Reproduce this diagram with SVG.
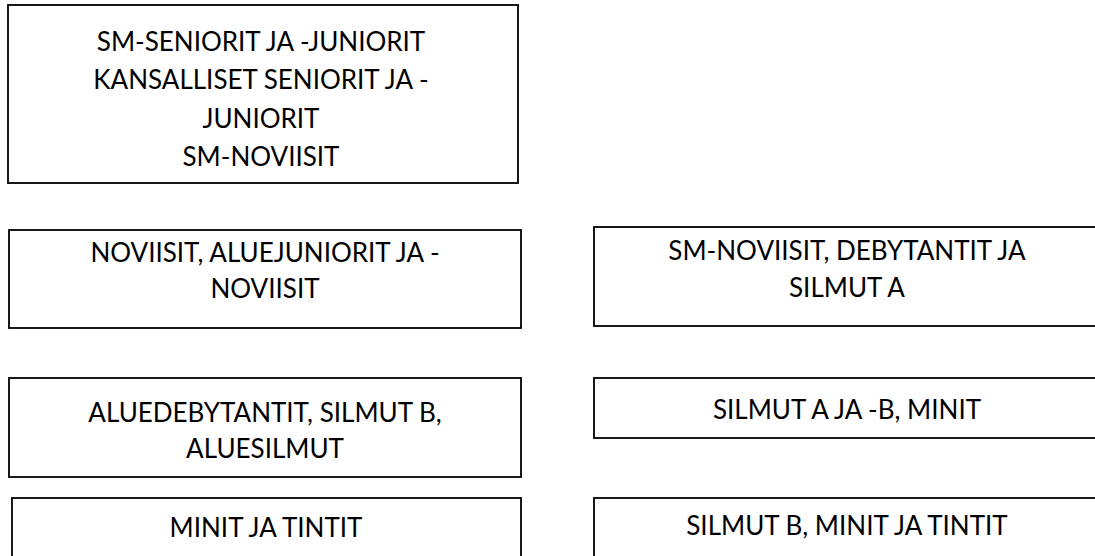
<svg xmlns="http://www.w3.org/2000/svg" width="1095" height="556" viewBox="0 0 1095 556">
<style>
.box{fill:#fff;stroke:#000;stroke-width:1.8}
.t{font-family:"Lato","Open Sans",sans-serif;font-size:26px;fill:#000;text-anchor:middle}
</style>
<rect width="1095" height="556" fill="#fff"/>
<g id="connectors"></g>
<g id="n1">
<rect class="box" x="8" y="5" width="510" height="178"/>
<text class="t" x="261" y="51">SM-SENIORIT JA -JUNIORIT</text>
<text class="t" x="261" y="89">KANSALLISET SENIORIT JA -</text>
<text class="t" x="261" y="128">JUNIORIT</text>
<text class="t" x="261" y="166">SM-NOVIISIT</text>
</g>
<g id="n2">
<rect class="box" x="9" y="230" width="512" height="98"/>
<text class="t" x="265" y="262">NOVIISIT, ALUEJUNIORIT JA -</text>
<text class="t" x="265" y="298">NOVIISIT</text>
</g>
<g id="n3">
<rect class="box" x="594" y="227" width="510" height="99"/>
<text class="t" x="847" y="260">SM-NOVIISIT, DEBYTANTIT JA</text>
<text class="t" x="847" y="297">SILMUT A</text>
</g>
<g id="n4">
<rect class="box" x="9" y="378" width="512" height="99"/>
<text class="t" x="265" y="422">ALUEDEBYTANTIT, SILMUT B,</text>
<text class="t" x="265" y="458">ALUESILMUT</text>
</g>
<g id="n5">
<rect class="box" x="594" y="378" width="510" height="60"/>
<text class="t" x="847" y="419">SILMUT A JA -B, MINIT</text>
</g>
<g id="n6">
<rect class="box" x="12" y="498" width="509" height="70"/>
<text class="t" x="266" y="537">MINIT JA TINTIT</text>
</g>
<g id="n7">
<rect class="box" x="594" y="498" width="510" height="70"/>
<text class="t" x="847" y="535">SILMUT B, MINIT JA TINTIT</text>
</g>
</svg>
